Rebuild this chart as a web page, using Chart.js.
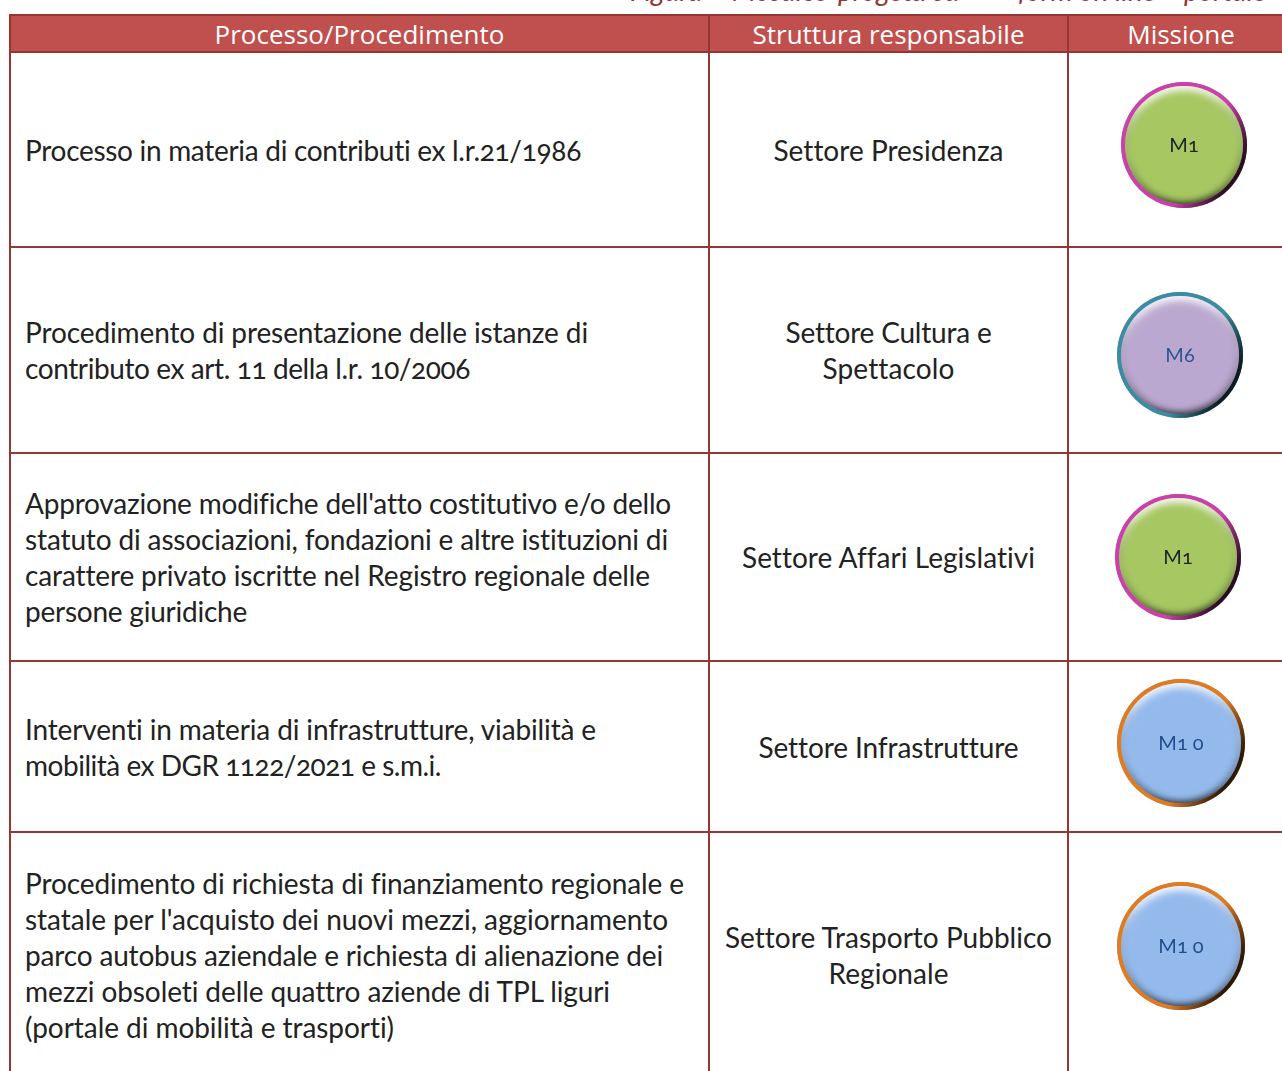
<!DOCTYPE html>
<html>
<head>
<meta charset="utf-8">
<title>Processi e missioni</title>
<script src="https://cdn.jsdelivr.net/npm/chart.js@4"></script>
<style>
html, body { margin: 0; padding: 0; background: #fff; width: 1282px; height: 1071px; overflow: hidden; }
#page { position: relative; width: 1282px; height: 1071px; overflow: hidden; }
.cap { position: absolute; top: -27px; font: italic 28px Lato, sans-serif; color: #943634; white-space: nowrap; }
table { position: absolute; left: 9px; top: 14px; width: 1284px; border-collapse: collapse; table-layout: fixed; font: 28px Lato, sans-serif; font-variant-numeric: oldstyle-nums; font-variant-ligatures: none; color: #222; }
th, td { border: 2px solid #943634; padding: 0; }
th { background: #c0504d; color: #fff; font: 400 26px/34px "Open Sans", sans-serif; height: 35px; }
td { text-align: center; white-space: nowrap; line-height: 36px; }
td.proc { text-align: left; padding-left: 14px; }
td span { display: inline-block; }
#bubbles { position: absolute; left: 0; top: 0; }
.code { position: absolute; transform: translate(-50%, -50%); font: 20px Lato, sans-serif; font-variant-numeric: oldstyle-nums; white-space: pre; }
</style>
</head>
<body>
<div id="page">
  <div class="cap" style="left:630px">Figura – Mosaico e</div>
  <div class="cap" style="left:838px">progetti su</div>
  <div class="cap" style="left:1018px">form on line</div>
  <div class="cap" style="left:1184px">portale</div>
  <table>
    <colgroup><col style="width:699px"><col style="width:359px"><col style="width:226px"></colgroup>
    <thead><tr id="head"></tr></thead>
    <tbody id="rows"></tbody>
  </table>
  <div id="bubbles"><canvas id="missionChart" width="1282" height="1071"></canvas></div>
</div>
<script>
// ── Data ──────────────────────────────────────────────────────────────────────
const headers = ["Processo/Procedimento", "Struttura responsabile", "Missione"];
const processes = [
    ["Processo in materia di contributi ex l.r.21/1986"],
    ["Procedimento di presentazione delle istanze di", "contributo ex art. 11 della l.r. 10/2006"],
    ["Approvazione modifiche dell'atto costitutivo e/o dello", "statuto di associazioni, fondazioni e altre istituzioni di", "carattere privato iscritte nel Registro regionale delle", "persone giuridiche"],
    ["Interventi in materia di infrastrutture, viabilità e", "mobilità ex DGR 1122/2021 e s.m.i."],
    ["Procedimento di richiesta di finanziamento regionale e", "statale per l'acquisto dei nuovi mezzi, aggiornamento", "parco autobus aziendale e richiesta di alienazione dei", "mezzi obsoleti delle quattro aziende di TPL liguri", "(portale di mobilità e trasporti)"],
];
const structures = [
    ["Settore Presidenza"],
    ["Settore Cultura e", "Spettacolo"],
    ["Settore Affari Legislativi"],
    ["Settore Infrastrutture"],
    ["Settore Trasporto Pubblico", "Regionale"],
];
const missions  = ["M1", "M6", "M1", "M1 0", "M1 0"];
const bubbleX   = [1184, 1180, 1178, 1181, 1181];
const bubbleY   = [145, 355, 557, 743, 946];
const bubbleR   = [63, 63, 63, 64, 64];

// ── Layout and styles ─────────────────────────────────────────────────────────
const rowHeights = [195, 206, 208, 171, 246];
// line widths measured on the page, used to fit the substitute font
const processWidths = [[556], [563, 445], [646, 643, 625, 222], [571, 416], [659, 643, 638, 585, 369]];
const structureWidths = [[230], [206, 132], [293], [260], [327, 120]];
const faceColor = ["#a6c762", "#bba8d0", "#a6c762", "#94baec", "#94baec"];
const rimColor  = ["#cc3fae", "#3a8ca0", "#cc3fae", "#e27a1e", "#e27a1e"];
const textColor = ["#222222", "#2f5496", "#222222", "#1f4e8c", "#1f4e8c"];

// ── Table ─────────────────────────────────────────────────────────────────────
function fitLines(lines, widths) {
    return lines.map((l, i) => `<span data-w="${widths[i]}">${l}</span>`).join("<br>");
}

document.getElementById("head").innerHTML = headers.map(h => `<th>${h}</th>`).join("");
document.getElementById("rows").innerHTML = processes.map((p, i) => `
    <tr style="height:${rowHeights[i]}px">
        <td class="proc">${fitLines(p, processWidths[i])}</td>
        <td>${fitLines(structures[i], structureWidths[i])}</td>
        <td></td>
    </tr>`).join("");

document.querySelectorAll("td span").forEach(s => {
    const extra = Number(s.dataset.w) - s.getBoundingClientRect().width;
    s.style.letterSpacing = (extra / s.textContent.length) + "px";
});

// ── Bevelled bubbles ──────────────────────────────────────────────────────────
const bevelPlugin = {
    id: "bevel",
    afterDatasetsDraw(chart) {
        const c = chart.ctx;
        chart.getDatasetMeta(0).data.forEach((el, i) => {
            const x = el.x, y = el.y, r = el.options.radius;
            const inner = r - 4;
            c.save();
            // rim, darker towards the right edge
            c.beginPath();
            c.arc(x, y, r, 0, Math.PI * 2);
            c.fillStyle = rimColor[i];
            c.fill();
            c.clip();
            const shade = c.createLinearGradient(x + r * 0.45, y - r * 0.2, x + r, y + r * 0.1);
            shade.addColorStop(0, "rgba(0,0,0,0)");
            shade.addColorStop(1, "rgba(0,0,0,0.8)");
            c.fillStyle = shade;
            c.fillRect(x - r, y - r, r * 2, r * 2);
            // sloped edge: light on top, dark at the bottom
            c.beginPath();
            c.arc(x, y, inner, 0, Math.PI * 2);
            c.fillStyle = faceColor[i];
            c.fill();
            c.clip();
            const slope = c.createLinearGradient(x - inner * 0.1, y - inner, x + inner * 0.1, y + inner);
            slope.addColorStop(0, "rgba(255,255,255,0.85)");
            slope.addColorStop(0.14, "rgba(255,255,255,0.6)");
            slope.addColorStop(0.5, "rgba(128,128,128,0.15)");
            slope.addColorStop(0.88, "rgba(0,0,0,0.4)");
            slope.addColorStop(1, "rgba(0,0,0,0.7)");
            c.fillStyle = slope;
            c.fillRect(x - r, y - r, r * 2, r * 2);
            // flat face with a soft edge
            c.filter = "blur(3px)";
            c.beginPath();
            c.arc(x, y + 1.5, inner - 4, 0, Math.PI * 2);
            c.fillStyle = faceColor[i];
            c.fill();
            c.restore();
        });
    },
    afterRender(chart) {
        // mission codes as page text, canvas fonts have no old-style figures
        const holder = document.getElementById("bubbles");
        holder.querySelectorAll(".code").forEach(n => n.remove());
        chart.getDatasetMeta(0).data.forEach((el, i) => {
            const code = document.createElement("div");
            code.className = "code";
            code.textContent = missions[i];
            code.style.left = el.x + "px";
            code.style.top = (el.y - 1) + "px";
            code.style.color = textColor[i];
            holder.appendChild(code);
        });
    },
};

new Chart(document.getElementById("missionChart"), {
    type: "bubble",
    data: {
        labels: missions,
        datasets: [{
            data: bubbleX.map((x, i) => ({ x, y: bubbleY[i], r: bubbleR[i] })),
            backgroundColor: faceColor,
            borderWidth: 0,
            clip: false,
        }],
    },
    options: {
        responsive: false,
        animation: false,
        events: [],
        layout: { padding: 0, autoPadding: false },
        plugins: { legend: { display: false }, tooltip: { enabled: false } },
        scales: {
            x: { display: false, min: 0, max: 1282 },
            y: { display: false, min: 0, max: 1071, reverse: true },
        },
    },
    plugins: [bevelPlugin],
});
</script>
</body>
</html>
